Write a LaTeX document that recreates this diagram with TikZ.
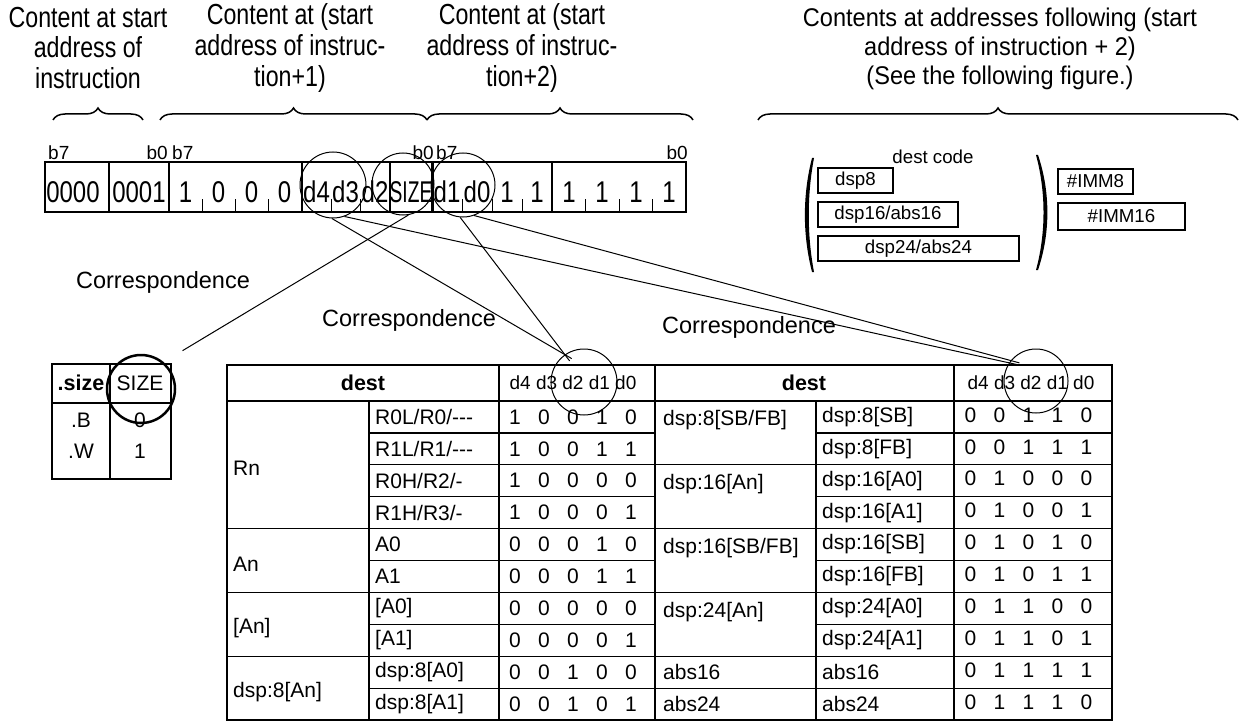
\documentclass[tikz,border=0pt]{standalone}
\usepackage{fontspec}
\setmainfont{Liberation Sans}
\newfontfamily\narrowfont[FakeStretch=0.8]{Liberation Sans}
\newfontfamily\semifont[FakeStretch=0.92]{Liberation Sans}
\usetikzlibrary{positioning, calc, decorations.pathreplacing}

\begin{document}
\begin{tikzpicture}[x=1pt, y=-1pt,
    toptxt/.style={font=\narrowfont\fontsize{29}{30.7}\selectfont, align=center, inner sep=0pt},
    bit/.style={font=\narrowfont\fontsize{30}{30}\selectfont, inner sep=0pt},
    blab/.style={font=\fontsize{19}{19}\selectfont, inner sep=0pt},
    cell/.style={font=\fontsize{21}{21}\selectfont, inner sep=0pt},
    hcell/.style={font=\fontsize{21.5}{21.5}\selectfont\bfseries, inner sep=0pt},
    corr/.style={font=\fontsize{23.5}{23.5}\selectfont, inner sep=0pt},
    hilite/.style={draw, circle, line width=1pt, inner sep=0pt, minimum size=#1},
    codebox/.style={draw, line width=1.2pt, font=\fontsize{18.7}{18.7}\selectfont,
        inner sep=0pt, minimum height=25pt},
    brc/.style={decorate, decoration={brace, amplitude=12pt}, line width=1.5pt},
    link/.style={line width=1pt},
]
\useasboundingbox (0,0) rectangle (1249,722);

% headings over the bytes
\node[toptxt] (top1) at (88,48) {Content at start\\address of\\instruction};
\node[toptxt] (top2) at (290,48) {Content at (start\\address of instruc-\\tion+1)};
\node[toptxt] (top3) at (522,48) {Content at (start\\address of instruc-\\tion+2)};
\node[toptxt, font=\semifont\fontsize{25.6}{29}\selectfont] (top4) at (1000,49)
    {Contents at addresses following (start\\address of instruction + 2)\\(See the following figure.)};

\draw[brc] (53,120) -- (143,120);
\draw[brc] (160,120) -- (427,120);
\draw[brc] (427,120) -- (693,120);
\draw[brc] (758,120) -- (1238,120);

% instruction bytes
\draw[line width=2.5pt] (45,162) rectangle (686,212);
\foreach \x in {109,302,390,552}
    \draw[line width=1.2pt] (\x,162) -- (\x,212);
\draw[line width=2pt] (169,162) -- (169,212);
\draw[line width=3pt] (432,162) -- (432,212);
\foreach \x in {202,235,268,331,360,462,492,522,585.5,619,652.5}
    \draw[line width=1pt] (\x,199) -- (\x,212);

\node[blab, anchor=west] (hb1) at (48,153) {b7};
\node[blab, anchor=east] (lb1) at (168,153) {b0};
\node[blab, anchor=west] (hb2) at (172,153) {b7};
\node[blab, anchor=east] (lb2) at (434,153) {b0};
\node[blab, anchor=west] (hb3) at (436,153) {b7};
\node[blab, anchor=east] (lb3) at (688,153) {b0};

\node[bit] (op0) at (73,192) {0000};
\node[bit] (op1) at (139,192) {0001};
\foreach \t [count=\i] in {1,0,0,0}
    \node[bit] (hi\i) at (152.5+33*\i,192) {\t};
\node[bit] (d4) at (316.5,192) {d4};
\node[bit] (d3) at (345.5,192) {d3};
\node[bit] (d2) at (375,192) {d2};
\node[bit] (sz) at (411,192) {\scalebox{0.8}[1]{SIZE}};
\node[bit] (d1) at (447,192) {d1};
\node[bit] (d0) at (477,192) {d0};
\foreach \t/\x [count=\i] in {1/507,1/537,1/569,1/602,1/636,1/669}
    \node[bit] (lo\i) at (\x,192) {\t};

\node[hilite=66pt] (c43) at (333,185) {};
\node[hilite=62pt] (csz) at (403,184) {};
\node[hilite=64pt] (c10) at (463,185) {};

% size table
\draw[line width=2.5pt] (52,364) rectangle (171,479);
\draw[line width=2.5pt] (52,403) -- (171,403);
\draw[line width=1.2pt] (110,364) -- (110,479);
\node[hcell] (szh) at (81,383) {.size};
\node[cell] (szv) at (140,383) {SIZE};
\node[cell] (szb) at (81,420) {.B};
\node[cell] (szb0) at (140,420) {0};
\node[cell] (szw) at (81,451) {.W};
\node[cell] (szw1) at (140,451) {1};
\node[hilite=68pt, line width=2.5pt] (cs) at (141,389) {};

% dest table
\draw[line width=2.5pt] (227,365) rectangle (1112,720);
\draw[line width=2.5pt] (227,401) -- (1112,401);
\draw[line width=2.5pt] (655,365) -- (655,720);
\foreach \x in {499,954}
    \draw[line width=1.5pt] (\x,365) -- (\x,720);
\foreach \x in {369,816}
    \draw[line width=1.2pt] (\x,401) -- (\x,720);
\foreach \k in {4,6,8}
    \draw[line width=1.2pt] (227,401+31.9*\k) -- (655,401+31.9*\k);
\foreach \k in {1,2,3,5,7,9}
    \draw[line width=1.2pt] (369,401+31.9*\k) -- (655,401+31.9*\k);
\foreach \k in {2,4,6,8,9}
    \draw[line width=1.2pt] (655,401+31.9*\k) -- (1112,401+31.9*\k);
\foreach \k in {1,3,5,7}
    \draw[line width=1.2pt] (816,401+31.9*\k) -- (1112,401+31.9*\k);

\node[hcell] (dl) at (363,383) {dest};
\node[hcell] (dr) at (804,383) {dest};
\node[cell, font=\fontsize{19}{19}\selectfont] (bl) at (573,383) {d4 d3 d2 d1 d0};
\node[cell, font=\fontsize{19}{19}\selectfont] (br) at (1031,383) {d4 d3 d2 d1 d0};

\node[cell, anchor=west] (gRn) at (233,468) {Rn};
\node[cell, anchor=west] (gAn) at (233,564) {An};
\node[cell, anchor=west] (gIn) at (233,628) {[An]};
\node[cell, anchor=west] (gD8) at (233,692) {dsp:8[An]};
\foreach \t [count=\r] in {R0L/R0/-{}-{}-, R1L/R1/-{}-{}-, R0H/R2/-, R1H/R3/-, A0, A1,
        {[A0]}, {[A1]}, {dsp:8[A0]}, {dsp:8[A1]}}
    \node[cell, anchor=west] (ls\r) at (375,385+31.9*\r) {\t};
\foreach \a/\b/\c/\d/\e [count=\r] in {1/0/0/1/0, 1/0/0/1/1, 1/0/0/0/0, 1/0/0/0/1,
        0/0/0/1/0, 0/0/0/1/1, 0/0/0/0/0, 0/0/0/0/1, 0/0/1/0/0, 0/0/1/0/1}
    \foreach \v [count=\j] in {\a,\b,\c,\d,\e}
        \node[cell] (lv\r-\j) at (486+29*\j,385+31.9*\r) {\v};

\node[cell, anchor=west] (gS8) at (663,420) {dsp:8[SB/FB]};
\node[cell, anchor=west] (gA16) at (663,484) {dsp:16[An]};
\node[cell, anchor=west] (gS16) at (663,548) {dsp:16[SB/FB]};
\node[cell, anchor=west] (gA24) at (663,612) {dsp:24[An]};
\node[cell, anchor=west] (gB16) at (663,672) {abs16};
\node[cell, anchor=west] (gB24) at (663,704) {abs24};
\foreach \t [count=\r] in {{dsp:8[SB]}, {dsp:8[FB]}, {dsp:16[A0]}, {dsp:16[A1]},
        {dsp:16[SB]}, {dsp:16[FB]}, {dsp:24[A0]}, {dsp:24[A1]}, abs16, abs24}
    \node[cell, anchor=west] (rs\r) at (822,385+31.9*\r) {\t};
\foreach \a/\b/\c/\d/\e [count=\r] in {0/0/1/1/0, 0/0/1/1/1, 0/1/0/0/0, 0/1/0/0/1,
        0/1/0/1/0, 0/1/0/1/1, 0/1/1/0/0, 0/1/1/0/1, 0/1/1/1/1, 0/1/1/1/0}
    \foreach \v [count=\j] in {\a,\b,\c,\d,\e}
        \node[cell] (rv\r-\j) at (941.5+29*\j,383+31.9*\r) {\v};

\node[hilite=66pt] (cm) at (584,382) {};
\node[hilite=64pt] (cr) at (1036,381) {};

% correspondence lines
\draw[link, shorten >=-8pt] (c43.-92) -- (cm.125);
\draw[link, shorten >=-8pt] (c10.-95) -- (cm.125);
\draw[link, shorten >=-9pt] (c43.-70) -- (cr.146);
\draw[link, shorten >=-9pt] (c10.-70) -- (cr.141);
\draw[link, shorten >=22pt] (csz.-80) -- (cs.50);

\node[corr] (cor1) at (163,282) {Correspondence};
\node[corr] (cor2) at (409,320) {Correspondence};
\node[corr] (cor3) at (749,327) {Correspondence};

% dest code group
\node[cell, font=\fontsize{18.7}{18.7}\selectfont] (dcode) at (933,157) {dest code};
\node[codebox, minimum width=75pt] (k8) at (855.5,180.5) {dsp8};
\node[codebox, minimum width=140pt] (k16) at (888,214.5) {dsp16/abs16};
\node[codebox, minimum width=201pt] (k24) at (918.5,248.5) {dsp24/abs24};
\node[codebox, minimum width=75pt] (i8) at (1095.5,181.5) {\#IMM8};
\node[codebox, minimum width=127pt, minimum height=27pt] (i16) at (1121.5,216.5) {\#IMM16};

\fill (812,158) .. controls (802.5,195) and (802.5,235) .. (812,272)
    -- (814,272) .. controls (807,235) and (807,195) .. (814,158) -- cycle;
\fill (1036,155) .. controls (1046,192) and (1046,233) .. (1036,270)
    -- (1038,270) .. controls (1050.5,233) and (1050.5,192) .. (1038,155) -- cycle;
\end{tikzpicture}
\end{document}
